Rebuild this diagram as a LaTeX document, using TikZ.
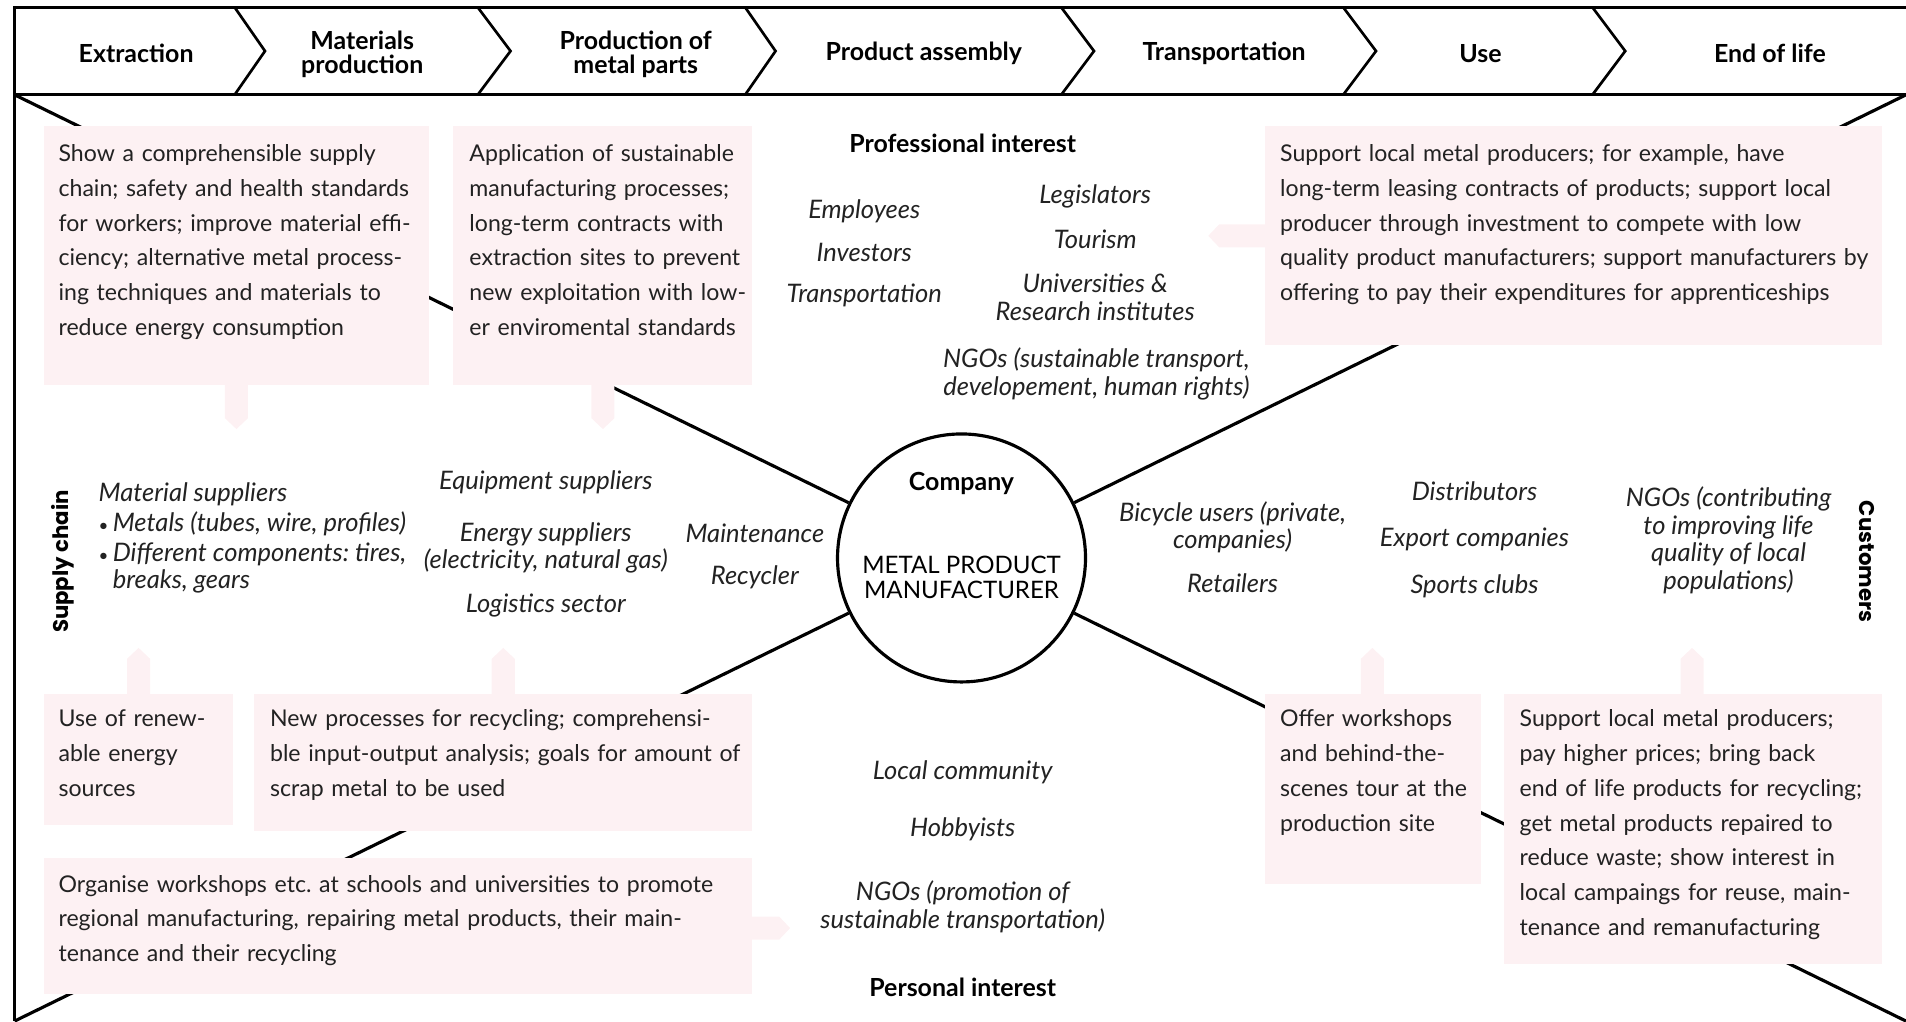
\documentclass[tikz,border=0pt]{standalone}
\usepackage{fontspec}
\setmainfont{Lato}
\newfontfamily\widefont{Poppins}
\frenchspacing
\definecolor{pk}{HTML}{FDF1F3}
\definecolor{ink}{HTML}{222222}
\tikzset{
  pbox/.style={fill=pk, draw=none, inner sep=0pt, outer sep=0pt, anchor=north west},
  btext/.style={anchor=base west, inner sep=0pt, text width=620pt, align=left, text=ink,
    font=\fontsize{19}{28.55}\selectfont},
  lbl/.style={inner sep=0pt, align=center, text=ink, font=\fontsize{21}{22.5}\selectfont\itshape},
  head/.style={inner sep=0pt, align=center, text=black, font=\fontsize{20.5}{20}\selectfont\bfseries},
  side/.style={inner sep=0pt, text=black, font=\fontsize{17.5}{20}\selectfont\widefont\bfseries},
  frame/.style={line width=2.6pt, line cap=butt},
  xline/.style={line width=2.6pt}
}
\begin{document}
\begin{tikzpicture}[x=1pt,y=-1pt]
\useasboundingbox (0,0) rectangle (1568,840);
% corners of the X
\coordinate (tl) at (12,78);
\coordinate (tr) at (1568,78);
\coordinate (bl) at (12,840);
\coordinate (br) at (1568,840);
% company circle
\node[circle, draw, line width=2.6pt, fill=white, minimum size=204pt, inner sep=0pt] (company) at (791,459) {};
\draw[xline] (tl) -- (company);
\draw[xline] (tr) -- (company);
\draw[xline] (bl) -- (company);
\draw[xline] (br) -- (company);
\node[head] (comp) at (791,398) {Company};
\node[inner sep=0pt, align=center, font=\fontsize{19.8}{20}\selectfont] (mpm) at (791,475) {METAL PRODUCT\\MANUFACTURER};
% frame and top band
\draw[frame] (12,840) -- (12,6) -- (1568,6);
\draw[frame] (12,78) -- (1568,78);
\foreach \xa/\xb in {193/218, 393/420, 613/638, 873/900, 1105/1132, 1310/1337}
  \draw[line width=2.2pt, line join=miter] (\xa,6) -- (\xb,42) -- (\xa,78);
\node[head] (s1) at (112,44) {Extraction};
\node[head] (s2) at (298,44.5) {Materials\\production};
\node[head] (s3) at (523,44.5) {Production of\\metal parts};
\node[head] (s4) at (760,44) {Product assembly};
\node[head] (s5) at (1007,44) {Transportation};
\node[head] (s6) at (1218,44) {Use};
\node[head] (s7) at (1456,44) {End of life};
% pink boxes
\node[pbox, minimum width=317pt, minimum height=213pt] (bA) at (36,104) {};
\node[pbox, minimum width=246pt, minimum height=213pt] (bB) at (373,104) {};
\node[pbox, minimum width=507pt, minimum height=180pt] (bC) at (1041,104) {};
\node[pbox, minimum width=156pt, minimum height=108pt] (bD) at (36,571) {};
\node[pbox, minimum width=410pt, minimum height=113pt] (bE) at (209,571) {};
\node[pbox, minimum width=583pt, minimum height=112pt] (bF) at (36,706) {};
\node[pbox, minimum width=177pt, minimum height=156pt] (bG) at (1041,571) {};
\node[pbox, minimum width=311pt, minimum height=222pt] (bH) at (1237,571) {};
% tabs
\foreach \cx in {194.5, 496}
  \fill[pk] (\cx-9.5,316) -- (\cx+9.5,316) -- (\cx+9.5,344) -- (\cx,353) -- (\cx-9.5,344) -- cycle;
\foreach \cx in {114, 414, 1129, 1392}
  \fill[pk] (\cx-9.5,572) -- (\cx+9.5,572) -- (\cx+9.5,542) -- (\cx,533) -- (\cx-9.5,542) -- cycle;
\fill[pk] (1042,184.5) -- (1042,203.5) -- (1003,203.5) -- (994,194) -- (1003,184.5) -- cycle;
\fill[pk] (618,754) -- (618,773) -- (641,773) -- (650,763.5) -- (641,754) -- cycle;
% box texts
\node[btext] (tA) at (48,133) {Show a comprehensible supply\\chain; safety and health standards\\for workers; improve material effi-\\ciency; alternative metal process-\\ing techniques and materials to\\reduce energy consumption};
\node[btext] (tB) at (386,133) {Application of sustainable\\manufacturing processes;\\long-term contracts with\\extraction sites to prevent\\new exploitation with low-\\er enviromental standards};
\node[btext] (tC) at (1053,133) {Support local metal producers; for example, have\\long-term leasing contracts of products; support local\\producer through investment to compete with low\\quality product manufacturers; support manufacturers by\\offering to pay their expenditures for apprenticeships};
\node[btext] (tD) at (48,598) {Use of renew-\\able energy\\sources};
\node[btext] (tE) at (222,598) {New processes for recycling; comprehensi-\\ble input-output analysis; goals for amount of\\scrap metal to be used};
\node[btext] (tF) at (48,734) {Organise workshops etc. at schools and universities to promote\\regional manufacturing, repairing metal products, their main-\\tenance and their recycling};
\node[btext] (tG) at (1053,598) {Offer workshops\\and behind-the-\\scenes tour at the\\production site};
\node[btext] (tH) at (1250,598) {Support local metal producers;\\pay higher prices; bring back\\end of life products for recycling;\\get metal products repaired to\\reduce waste; show interest in\\local campaings for reuse, main-\\tenance and remanufacturing};
% professional interest
\node[head] (prof) at (792,118) {Professional interest};
\node[lbl] (emp) at (711,174) {Employees};
\node[lbl] (inv) at (711,208) {Investors};
\node[lbl] (tra) at (711,243) {Transportation};
\node[lbl] (leg) at (901,162) {Legislators};
\node[lbl] (tou) at (901,197) {Tourism};
\node[lbl] (uni) at (901,244.5) {Universities \&\\Research institutes};
\node[lbl] (ngo1) at (902,307.5) {NGOs (sustainable transport,\\developement, human rights)};
% supply chain
\node[side, rotate=90] (sup) at (52,462) {Supply chain};
\node[lbl, anchor=west, align=left] (mat) at (81,407) {Material suppliers};
\node[lbl, anchor=west, align=left] (met) at (81,431) {{\fontsize{14}{14}\selectfont\textbullet}\,Metals (tubes, wire, profiles)};
\node[lbl, anchor=north west, align=left] (dif) at (81,446) {{\fontsize{14}{14}\selectfont\textbullet}\,Different components: tires,\\\hphantom{{\fontsize{14}{14}\selectfont\textbullet}\,}breaks, gears};
\node[lbl] (equ) at (449,397) {Equipment suppliers};
\node[lbl] (ene) at (449,451) {Energy suppliers\\(electricity, natural gas)};
\node[lbl] (log) at (449,498) {Logistics sector};
\node[lbl] (mai) at (621,439) {Maintenance};
\node[lbl] (rec) at (621,475) {Recycler};
% customers
\node[lbl] (bic) at (1014,434) {Bicycle users (private,\\companies)};
\node[lbl] (ret) at (1014,480) {Retailers};
\node[lbl] (dis) at (1213,404) {Distributors};
\node[lbl] (exp) at (1213,444) {Export companies};
\node[lbl] (spo) at (1213,482) {Sports clubs};
\node[lbl] (ngo2) at (1422,444.5) {NGOs (contributing\\to improving life\\quality of local\\populations)};
\node[side, rotate=-90] (cus) at (1536,462) {Customers};
% personal interest
\node[lbl] (loc) at (792,635) {Local community};
\node[lbl] (hob) at (792,682) {Hobbyists};
\node[lbl] (ngo3) at (792,746) {NGOs (promotion of\\sustainable transportation)};
\node[head] (pers) at (792,812) {Personal interest};
\end{tikzpicture}
\end{document}
